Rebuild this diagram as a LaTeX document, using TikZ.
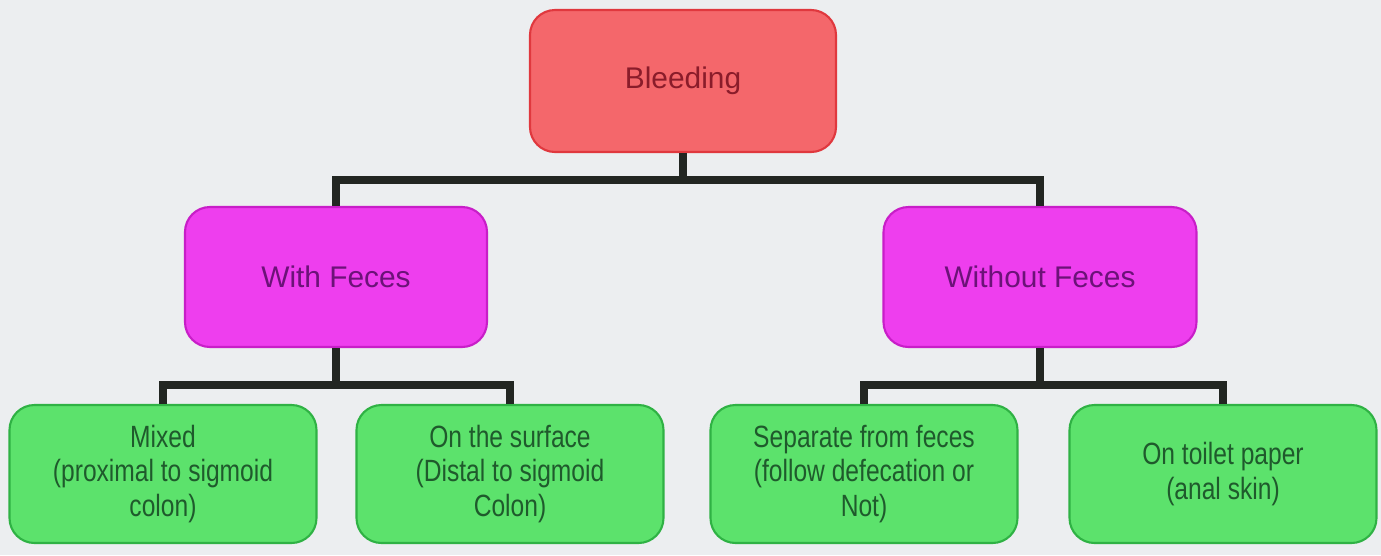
\documentclass[tikz,border=0pt]{standalone}
\usepackage{fontspec}
\setmainfont{Liberation Sans}
\newfontfamily\narrowsans[FakeStretch=0.8]{Liberation Sans}
\usepackage{tikz}
\usetikzlibrary{calc}

\definecolor{slidebg}{HTML}{ECEEF0}
\definecolor{rootfill}{HTML}{F4676B}
\definecolor{rootdraw}{HTML}{E0383E}
\definecolor{roottext}{HTML}{8A1C2A}
\definecolor{midfill}{HTML}{EE3EEE}
\definecolor{middraw}{HTML}{C81EC8}
\definecolor{midtext}{HTML}{6C1278}
\definecolor{leaffill}{HTML}{5CE26C}
\definecolor{leafdraw}{HTML}{2FB244}
\definecolor{leaftext}{HTML}{1F5A2C}
\definecolor{linkcol}{HTML}{222622}

\begin{document}
\begin{tikzpicture}
	[box/.style={draw,line width=1.2pt,rounded corners=0.5cm,align=center,inner sep=0pt},
	 rootbox/.style={box,fill=rootfill,draw=rootdraw,text=roottext,
		minimum width=6.12cm,minimum height=2.84cm,font=\fontsize{17}{20}\selectfont},
	 middlebox/.style={box,fill=midfill,draw=middraw,text=midtext,
		minimum height=2.8cm,font=\fontsize{17}{20}\selectfont},
	 leafbox/.style={box,fill=leaffill,draw=leafdraw,text=leaftext,
		minimum width=6.14cm,minimum height=2.76cm,font=\narrowsans\fontsize{17.5}{19.5}\selectfont},
	 link/.style={draw=linkcol,line width=5pt,line join=miter}]
	% slide background, fixes the page size
	\fill[slidebg] (0,0) rectangle (27.62,-11.1);
	\useasboundingbox (0,0) rectangle (27.62,-11.1);

	% top level
	\node[rootbox] (bleed) at (13.66,-1.62) {Bleeding};

	% second level
	\node[middlebox,minimum width=6.04cm] (withf) at (6.72,-5.54) {With Feces};
	\node[middlebox,minimum width=6.26cm] (woutf) at (20.8,-5.54) {Without Feces};

	% leaves
	\node[leafbox] (mixed) at (3.26,-9.48) {Mixed\\(proximal to sigmoid\\colon)};
	\node[leafbox] (surface) at (10.2,-9.48) {On the surface\\(Distal to sigmoid\\Colon)};
	\node[leafbox] (separate) at (17.28,-9.48) {Separate from feces\\(follow defecation or\\Not)};
	\node[leafbox] (toilet) at (24.46,-9.48) {On toilet paper\\(anal skin)};

	% bus levels
	\coordinate (bus1) at (0,-3.6);
	\coordinate (bus2) at (0,-7.7);

	% connectors
	\draw[link] (bleed.south) -- (bleed.south |- bus1) -| (withf.north);
	\draw[link] (bleed.south) -- (bleed.south |- bus1) -| (woutf.north);
	\draw[link] (withf.south) -- (withf.south |- bus2) -| (mixed.north);
	\draw[link] (withf.south) -- (withf.south |- bus2) -| (surface.north);
	\draw[link] (woutf.south) -- (woutf.south |- bus2) -| (separate.north);
	\draw[link] (woutf.south) -- (woutf.south |- bus2) -| (toilet.north);
\end{tikzpicture}
\end{document}
